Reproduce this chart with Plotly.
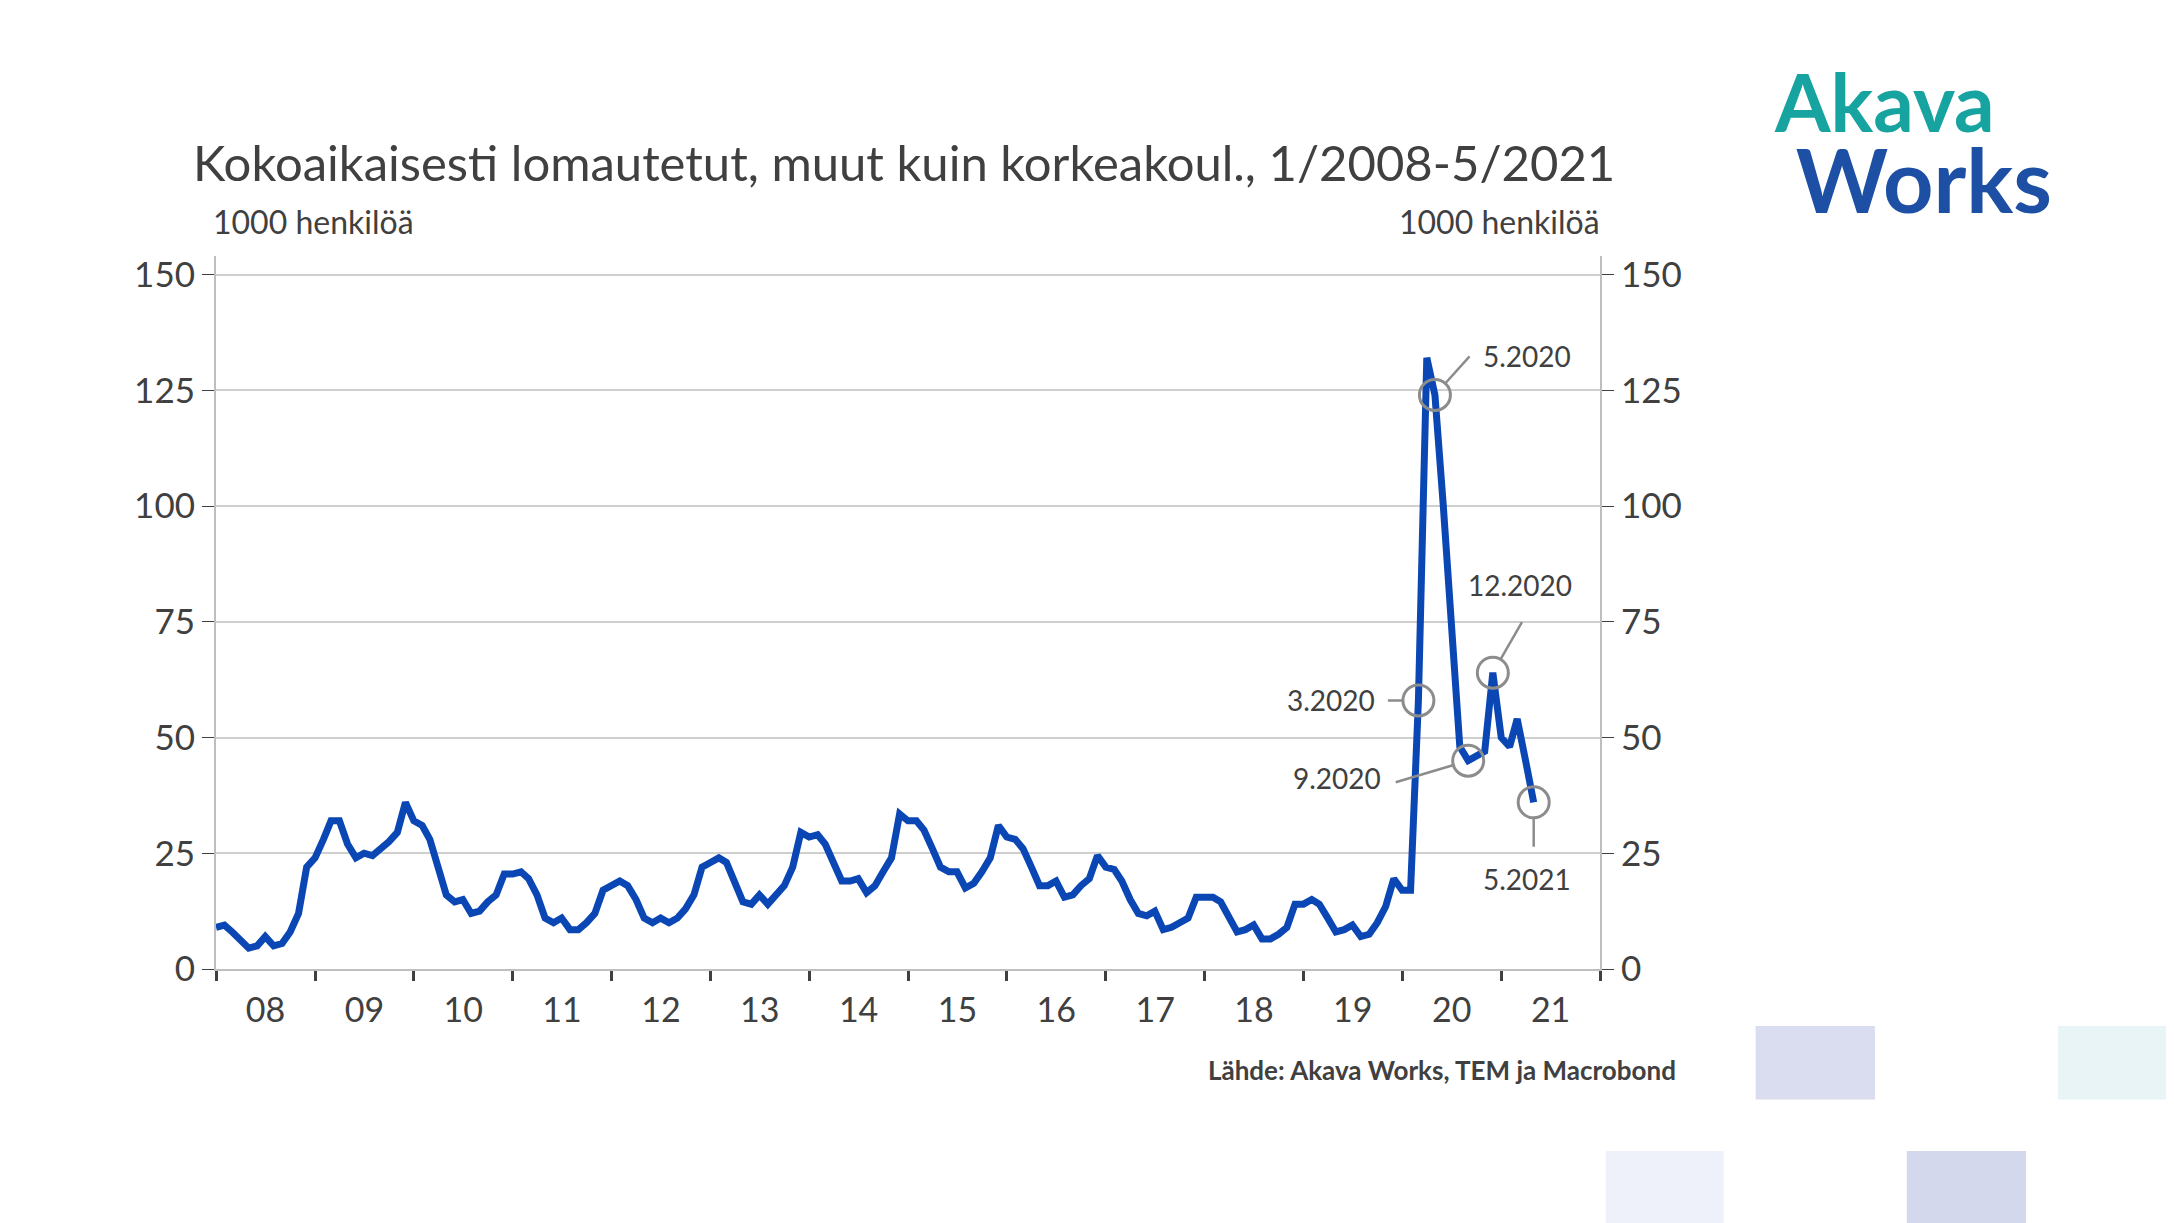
import plotly.graph_objects as go
import pandas as pd

# kuukausittaiset arvot 1/2008-5/2021, 1000 henkilöä
v2008 = [9, 9.5, 8, 6, 4.5, 5, 7, 5, 5.5, 8, 12, 22]
v2009 = [24, 28, 32, 32, 27, 24, 25, 24.5, 26, 27.5, 29.5, 36]
v2010 = [32, 31, 28, 22, 16, 14.5, 15, 12, 12.5, 14.5, 16, 20.5]
v2011 = [20.5, 21, 19.5, 16, 11, 10, 11, 8.5, 8.5, 10, 12, 17]
v2012 = [18, 19, 18, 15, 11, 10, 11, 10, 11, 13, 16, 22]
v2013 = [23, 24, 23, 19, 14.5, 14, 16, 14, 16, 18, 22, 29.5]
v2014 = [28.5, 29, 27, 23, 19, 19, 19.5, 16.5, 18, 21, 24, 33.5]
v2015 = [32, 32, 30, 26, 22, 21, 21, 17.5, 18.5, 21, 24, 31]
v2016 = [28.5, 28, 26, 22, 18, 18, 19, 15.5, 16, 18, 19.5, 24.5]
v2017 = [22, 21.5, 19, 15, 12, 11.5, 12.5, 8.5, 9, 10, 11, 15.5]
v2018 = [15.5, 15.5, 14.5, 11.5, 8, 8.5, 9.5, 6.5, 6.5, 7.5, 9, 14]
v2019 = [14, 15, 14, 11, 8, 8.5, 9.5, 7, 7.5, 10, 13.5, 19.5]
v2020 = [17, 17, 58, 132, 124, 100, 72, 48, 45, 46, 47, 64]
v2021 = [50, 48, 54, 45, 36]

values = (v2008 + v2009 + v2010 + v2011 + v2012 + v2013 + v2014 + v2015
          + v2016 + v2017 + v2018 + v2019 + v2020 + v2021)
dates = pd.date_range("2008-01-01", periods=len(values), freq="MS")

marked = ["2020-03-01", "2020-05-01", "2020-09-01", "2020-12-01", "2021-05-01"]
marked_labels = ["3.2020", "5.2020", "9.2020", "12.2020", "5.2021"]
marked_vals = [values[list(dates).index(pd.Timestamp(d))] for d in marked]

S = 1.387
L, R, T, B = 208, 582, 248, 262
W, H = 2174, 1223
PW, PH = W - L - R, H - T - B


def px(d):
    return ((d - 6) * S - L) / PW


def py(d):
    return (H - B - (d - 6) * S) / PH


FONT = "Lato"
GREY = "#404040"

fig = go.Figure()
fig.add_trace(go.Scatter(x=dates, y=values, mode="lines",
                         line=dict(color="#0a47b4", width=7), showlegend=False))
fig.add_trace(go.Scatter(x=marked, y=marked_vals, mode="markers",
                         marker=dict(symbol="circle-open", size=31,
                                     color="#8c8c8c", line=dict(width=3)),
                         showlegend=False))
# tyhjä sarja oikeaa akselia varten
fig.add_trace(go.Scatter(x=[dates[0]], y=[0], yaxis="y2", mode="markers",
                         marker=dict(opacity=0), showlegend=False, hoverinfo="skip"))

ann = []
# viivojen päät (ax, ay px)
offs = [(-32, 0), (36, -40), (-74, 22), (30, -52), (0, 46)]
for d, val, (ax, ay) in zip(marked, marked_vals, offs):
    ann.append(dict(x=d, y=val, ax=ax, ay=ay, text="", showarrow=True,
                    arrowhead=0, arrowwidth=2.5, arrowcolor="#8c8c8c",
                    standoff=16))
label_pos = [(993, 505, "right"), (1068, 257, "left"), (997, 561, "right"),
             (1057, 422, "left"), (1068, 634, "left")]
for lab, (x, y, al) in zip(marked_labels, label_pos):
    ann.append(dict(x=px(x), y=py(y), xref="paper", yref="paper", text=lab,
                    showarrow=False, xanchor=al, yanchor="middle",
                    font=dict(size=28, color=GREY, family=FONT)))

logo = ("<b><span style='color:#17a3a0;font-size:80px'>Akava</span><br>"
        "<span style='color:#1d50a4;font-size:88px'> Works</span></b>")

ann += [
    dict(x=px(138), y=py(117), xref="paper", yref="paper", xanchor="left", yanchor="middle",
         text="Kokoaikaisesti lomautetut, muut kuin korkeakoul., 1/2008-5/2021",
         showarrow=False, font=dict(size=49, color=GREY, family=FONT)),
    dict(x=px(152), y=py(160), xref="paper", yref="paper", xanchor="left", yanchor="middle",
         text="1000 henkilöä", showarrow=False, font=dict(size=32, color=GREY, family=FONT)),
    dict(x=px(1155), y=py(160), xref="paper", yref="paper", xanchor="right", yanchor="middle",
         text="1000 henkilöä", showarrow=False, font=dict(size=32, color=GREY, family=FONT)),
    dict(x=px(1210), y=py(772), xref="paper", yref="paper", xanchor="right", yanchor="middle",
         text="<b>Lähde: Akava Works, TEM ja Macrobond</b>", showarrow=False,
         font=dict(size=26, color=GREY, family=FONT)),
    dict(x=px(1278), y=py(103), xref="paper", yref="paper", xanchor="left", yanchor="middle",
         align="left", text=logo, showarrow=False,
         font=dict(size=62, color="#17a3a0", family=FONT)),
]

squares = [((1266, 740, 1352, 793), "#d9ddef"), ((1484, 740, 1580, 793), "#e8f4f6"),
           ((1158, 830, 1243, 900), "#eef1fa"), ((1375, 830, 1461, 900), "#d3d8ec")]
shapes = [dict(type="rect", xref="paper", yref="paper", x0=px(a), x1=px(c),
               y0=py(d), y1=py(b), fillcolor=col, line=dict(width=0), layer="below")
          for (a, b, c, d), col in squares]

fig.update_layout(
    width=W, height=H, margin=dict(l=L, r=R, t=T, b=B),
    plot_bgcolor="white", paper_bgcolor="white",
    font=dict(family=FONT, color=GREY),
    annotations=ann, shapes=shapes,
    xaxis=dict(range=["2008-01-01", "2022-01-01"], dtick="M12", tick0="2008-01-01",
               tickformat="%y", ticklabelmode="period", ticks="outside",
               ticklen=10, tickwidth=2.5, tickcolor="#404040",
               showline=True, linecolor="#bfbfbf", linewidth=2, showgrid=False,
               tickfont=dict(size=34, color=GREY)),
    yaxis=dict(range=[0, 154], tickvals=[0, 25, 50, 75, 100, 125, 150],
               ticks="outside", ticklen=12, tickcolor="#404040",
               showline=True, linecolor="#bfbfbf", linewidth=2,
               gridcolor="#cfcfcf", gridwidth=1.5, zeroline=False,
               tickfont=dict(size=35, color=GREY)),
    yaxis2=dict(range=[0, 154], tickvals=[0, 25, 50, 75, 100, 125, 150],
                overlaying="y", side="right", ticks="outside", ticklen=12,
                tickcolor="#404040", showline=True, linecolor="#bfbfbf",
                linewidth=2, showgrid=False, zeroline=False,
                tickfont=dict(size=35, color=GREY)),
)

fig.write_html("out.html")
